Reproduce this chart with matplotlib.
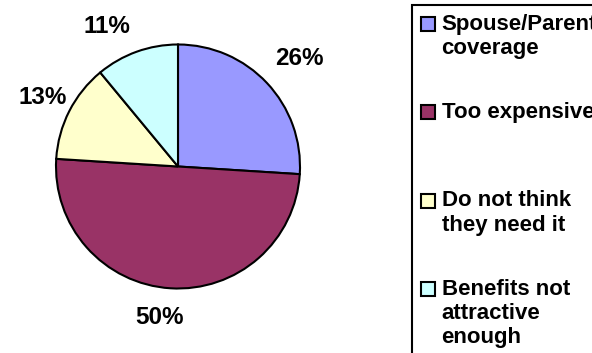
import matplotlib
matplotlib.use('Agg')
import matplotlib.pyplot as plt
from matplotlib.patches import Rectangle
from matplotlib.legend_handler import HandlerPatch

# Data
categories = ['Spouse/Parent\ncoverage', 'Too expensive', 'Do not think\nthey need it',
              'Benefits not\nattractive\nenough']
shares = [26, 50, 13, 11]
colors = ['#9999FF', '#993366', '#FFFFCC', '#CCFFFF']

# small nudges (data units) for the percentage labels, as placed in the original
label_nudge = [(0.066, 0.015), (-0.074, 0.033), (0.025, -0.008), (-0.152, -0.049)]

plt.rcParams['font.family'] = ['Liberation Sans', 'DejaVu Sans']

W, H = 592, 353
fig = plt.figure(figsize=(W / 100, H / 100), dpi=100)

# pie axes: centre (178, 166.5) px, radius 122 px
cx, cy, r = 178, 166.5, 122
ax = fig.add_axes([(cx - r) / W, 1 - (cy + r) / H, 2 * r / W, 2 * r / H])
wedges, texts, autotexts = ax.pie(
    shares, colors=colors, startangle=90, counterclock=False,
    autopct=lambda p: f'{p:.0f}%', pctdistance=1.27,
    wedgeprops=dict(edgecolor='black', linewidth=1.5),
    textprops=dict(fontsize=17.5, fontweight='bold'))
ax.set_xlim(-1, 1)
ax.set_ylim(-1, 1)
ax.set_aspect('equal')
ax.axis('off')

for t, (dx, dy) in zip(autotexts, label_nudge):
    x, y = t.get_position()
    t.set_position((x + dx, y + dy))
    t.set_clip_on(False)

# legend: every entry gets a 3-line slot, like the original
n_lines = max(c.count('\n') + 1 for c in categories)
labels = [c + '\n' * (n_lines - c.count('\n') - 1) for c in categories]


def square(legend, orig_handle, xdescent, ydescent, width, height, fontsize):
    return Rectangle((-xdescent, -ydescent), width, width)


leg = fig.legend(wedges, labels, loc='upper left',
                 bbox_to_anchor=(412 / W, 1 - 5 / H), borderaxespad=0,
                 frameon=True, fancybox=False, edgecolor='black', framealpha=1,
                 borderpad=0.4, handlelength=0.63, handleheight=0.82,
                 handletextpad=0.3, labelspacing=0.85,
                 prop=dict(size=16, weight='bold'),
                 handler_map={matplotlib.patches.Wedge: HandlerPatch(patch_func=square)})
leg.get_frame().set_linewidth(1.5)

for col in leg._legend_handle_box.get_children():
    for item in col.get_children():
        item.align = 'top'

fig.savefig('out.png', dpi=100)
